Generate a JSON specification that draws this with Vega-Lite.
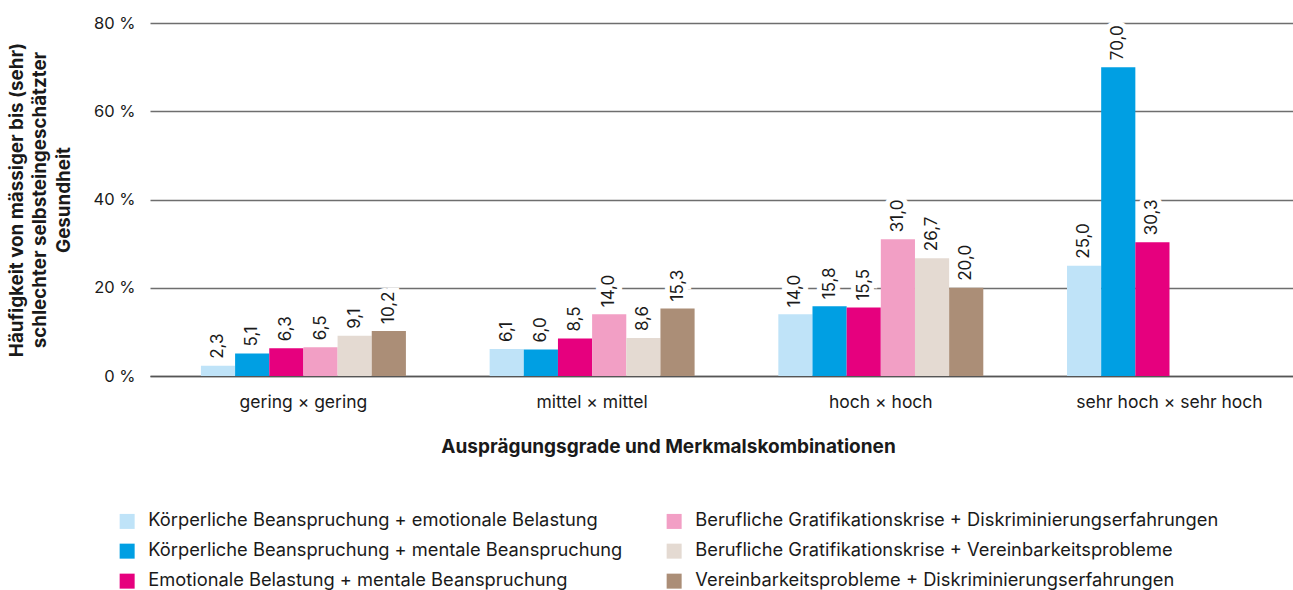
{
  "$schema": "https://vega.github.io/schema/vega-lite/v6.json",
  "width": 1143,
  "height": 353,
  "autosize": "none",
  "padding": {"left": 150, "top": 23, "right": 0, "bottom": 214},
  "background": "white",
  "config": {
    "font": "Inter",
    "view": {"stroke": null},
    "locale": {"number": {"decimal": ",", "thousands": ".", "grouping": [3], "currency": ["", " €"]}}
  },
  "data": {
    "values": [
      {"g": "gering × gering", "k": "Körperliche Beanspruchung + emotionale Belastung", "v": 2.3},
      {"g": "gering × gering", "k": "Körperliche Beanspruchung + mentale Beanspruchung", "v": 5.1},
      {"g": "gering × gering", "k": "Emotionale Belastung + mentale Beanspruchung", "v": 6.3},
      {"g": "gering × gering", "k": "Berufliche Gratifikationskrise + Diskriminierungserfahrungen", "v": 6.5},
      {"g": "gering × gering", "k": "Berufliche Gratifikationskrise + Vereinbarkeitsprobleme", "v": 9.1},
      {"g": "gering × gering", "k": "Vereinbarkeitsprobleme + Diskriminierungserfahrungen", "v": 10.2},
      {"g": "mittel × mittel", "k": "Körperliche Beanspruchung + emotionale Belastung", "v": 6.1},
      {"g": "mittel × mittel", "k": "Körperliche Beanspruchung + mentale Beanspruchung", "v": 6.0},
      {"g": "mittel × mittel", "k": "Emotionale Belastung + mentale Beanspruchung", "v": 8.5},
      {"g": "mittel × mittel", "k": "Berufliche Gratifikationskrise + Diskriminierungserfahrungen", "v": 14.0},
      {"g": "mittel × mittel", "k": "Berufliche Gratifikationskrise + Vereinbarkeitsprobleme", "v": 8.6},
      {"g": "mittel × mittel", "k": "Vereinbarkeitsprobleme + Diskriminierungserfahrungen", "v": 15.3},
      {"g": "hoch × hoch", "k": "Körperliche Beanspruchung + emotionale Belastung", "v": 14.0},
      {"g": "hoch × hoch", "k": "Körperliche Beanspruchung + mentale Beanspruchung", "v": 15.8},
      {"g": "hoch × hoch", "k": "Emotionale Belastung + mentale Beanspruchung", "v": 15.5},
      {"g": "hoch × hoch", "k": "Berufliche Gratifikationskrise + Diskriminierungserfahrungen", "v": 31.0},
      {"g": "hoch × hoch", "k": "Berufliche Gratifikationskrise + Vereinbarkeitsprobleme", "v": 26.7},
      {"g": "hoch × hoch", "k": "Vereinbarkeitsprobleme + Diskriminierungserfahrungen", "v": 20.0},
      {"g": "sehr hoch × sehr hoch", "k": "Körperliche Beanspruchung + emotionale Belastung", "v": 25.0},
      {"g": "sehr hoch × sehr hoch", "k": "Körperliche Beanspruchung + mentale Beanspruchung", "v": 70.0},
      {"g": "sehr hoch × sehr hoch", "k": "Emotionale Belastung + mentale Beanspruchung", "v": 30.3}
    ]
  },
  "encoding": {
    "x": {
      "field": "g", "type": "nominal", "sort": null,
      "scale": {"paddingInner": 0.29, "paddingOuter": 0.1246, "align": 0.708},
      "axis": {
        "title": "Ausprägungsgrade und Merkmalskombinationen",
        "titleFontSize": 19, "titleFontWeight": "bold", "titleColor": "#1a1a1a", "titlePadding": 27,
        "titleX": 518, "titleAlign": "center", "titleAnchor": "middle",
        "labelAngle": 0, "labelFontSize": 17.5, "labelColor": "#1a1a1a", "labelPadding": 17, "labelLimit": 400,
        "ticks": false, "domain": true, "domainColor": "#555555", "domainWidth": 1.5
      }
    },
    "xOffset": {
      "field": "k", "type": "nominal",
      "scale": {"domain": [
        "Körperliche Beanspruchung + emotionale Belastung",
        "Körperliche Beanspruchung + mentale Beanspruchung",
        "Emotionale Belastung + mentale Beanspruchung",
        "Berufliche Gratifikationskrise + Diskriminierungserfahrungen",
        "Berufliche Gratifikationskrise + Vereinbarkeitsprobleme",
        "Vereinbarkeitsprobleme + Diskriminierungserfahrungen"
      ], "paddingInner": 0, "paddingOuter": 0}
    },
    "y": {
      "field": "v", "type": "quantitative",
      "scale": {"domain": [0, 80], "nice": false},
      "axis": {
        "values": [0, 20, 40, 60, 80],
        "labelExpr": "datum.value + ' %'",
        "labelFontSize": 16.5, "labelColor": "#1a1a1a", "labelPadding": 15,
        "ticks": false, "domain": false,
        "grid": true, "gridColor": "#6e6e6e", "gridWidth": 1.3,
        "title": ["Häufigkeit von mässiger bis (sehr)", "schlechter selbsteingeschätzter", "Gesundheit"],
        "titleFontSize": 18.8, "titleFontWeight": "bold", "titleColor": "#1a1a1a", "titlePadding": 20, "titleLineHeight": 23.5
      }
    }
  },
  "layer": [
    {
      "mark": {"type": "text", "angle": 270, "align": "left", "baseline": "middle", "dx": 7, "fontSize": 17, "fill": "white", "stroke": "white", "strokeWidth": 10, "strokeJoin": "miter"},
      "encoding": {"text": {"field": "v", "type": "quantitative", "format": ".1f"}}
    },
    {
      "mark": {"type": "bar"},
      "encoding": {
        "color": {
          "field": "k", "type": "nominal",
          "scale": {
            "domain": [
              "Körperliche Beanspruchung + emotionale Belastung",
              "Berufliche Gratifikationskrise + Diskriminierungserfahrungen",
              "Körperliche Beanspruchung + mentale Beanspruchung",
              "Berufliche Gratifikationskrise + Vereinbarkeitsprobleme",
              "Emotionale Belastung + mentale Beanspruchung",
              "Vereinbarkeitsprobleme + Diskriminierungserfahrungen"
            ],
            "range": ["#bfe3f8", "#f29fc5", "#009fe3", "#e4dad2", "#e6007e", "#ab8e77"]
          },
          "legend": {
            "title": null, "orient": "none", "legendX": -32, "legendY": 489,
            "columns": 2, "direction": "horizontal",
            "symbolType": "square", "symbolSize": 225, "symbolStrokeWidth": 0, "symbolOpacity": 1,
            "labelFontSize": 18.3, "labelColor": "#1a1a1a", "labelLimit": 700, "labelOffset": 12,
            "rowPadding": 11, "columnPadding": 42
          }
        }
      }
    },
    {
      "mark": {"type": "text", "angle": 270, "align": "left", "baseline": "middle", "dx": 7, "fontSize": 17, "color": "#1a1a1a"},
      "encoding": {"text": {"field": "v", "type": "quantitative", "format": ".1f"}}
    }
  ]
}
